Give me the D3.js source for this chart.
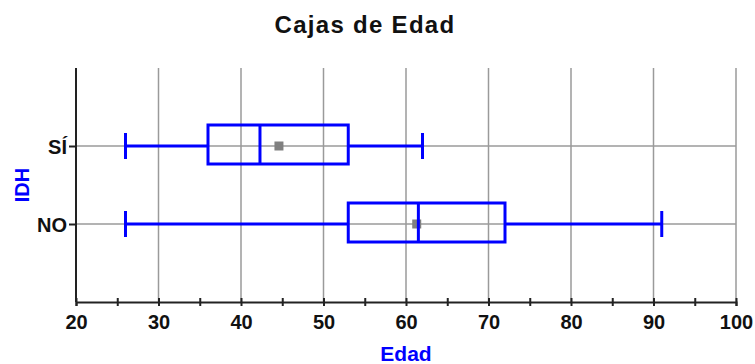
<!DOCTYPE html>
<html>
<head>
<meta charset="utf-8">
<script src="https://cdn.jsdelivr.net/npm/d3@7"></script>
<style>
  body { margin: 0; background: #fff; }
  text { font-family: "Liberation Sans", Arial, sans-serif; }
</style>
</head>
<body>
<div id="chart"></div>
<script>
// box data
let categories = ["SÍ", "NO"];
let whiskerLow = [26, 26];
let q1 = [36, 53];
let medians = [42.3, 61.5];
let q3 = [53, 72];
let whiskerHigh = [62, 91];
let means = [44.6, 61.3];
let xTicks = [20, 25, 30, 35, 40, 45, 50, 55, 60, 65, 70, 75, 80, 85, 90, 95, 100];

let width = 755,
    height = 364;
let margin = {top: 68, right: 19, bottom: 62, left: 76};

let svg = d3.select("#chart")
    .append("svg")
    .attr("width", width)
    .attr("height", height);

let plotW = width - margin.left - margin.right,
    plotH = height - margin.top - margin.bottom;

let g = svg.append("g")
    .attr("transform", `translate(${margin.left},${margin.top})`);

let x = d3.scaleLinear()
    .domain([20, 100])
    .range([0, plotW]);

let y = d3.scalePoint()
    .domain(["NO", "SÍ"])
    .range([plotH, 0])
    .padding(1);

// grid
g.append("g").selectAll("line")
    .data(xTicks.filter(d => d % 10 == 0 && d > 20))
    .enter().append("line")
    .attr("x1", d => x(d)).attr("x2", d => x(d))
    .attr("y1", 0).attr("y2", plotH)
    .attr("stroke", "#9a9a9a")
    .attr("stroke-width", 1.5);

g.append("g").selectAll("line")
    .data(categories)
    .enter().append("line")
    .attr("x1", 0).attr("x2", plotW)
    .attr("y1", d => y(d)).attr("y2", d => y(d))
    .attr("stroke", "#9a9a9a")
    .attr("stroke-width", 1.5);

// axes
let xAxis = g.append("g")
    .attr("transform", `translate(0,${plotH})`)
    .call(d3.axisBottom(x).tickValues(xTicks).tickSize(4).tickPadding(9)
        .tickFormat(d => d % 10 == 0 ? d : ""));
xAxis.select(".domain").attr("stroke", "#222").attr("stroke-width", 2);
xAxis.selectAll(".tick line").attr("y1", -4).attr("stroke", "#222").attr("stroke-width", 2);
xAxis.selectAll(".tick text")
    .attr("fill", "#111")
    .style("font-size", "20px")
    .style("font-weight", "bold");

let yAxis = g.append("g")
    .call(d3.axisLeft(y).tickSize(7).tickPadding(2));
yAxis.select(".domain").attr("stroke", "#222").attr("stroke-width", 2)
    .attr("d", `M0,${plotH}V0`);
yAxis.selectAll(".tick line").attr("stroke", "#222").attr("stroke-width", 2);
yAxis.selectAll(".tick text")
    .attr("fill", "#111")
    .attr("dy", "0.36em")
    .style("font-size", "20px")
    .style("font-weight", "bold");

// boxes
let blue = "#0000ff";
let boxes = g.append("g").selectAll("g")
    .data(categories)
    .enter().append("g");

boxes.append("line")
    .attr("x1", (d, i) => x(whiskerLow[i]))
    .attr("x2", (d, i) => x(q1[i]))
    .attr("y1", d => y(d)).attr("y2", d => y(d))
    .attr("stroke", blue).attr("stroke-width", 3);

boxes.append("line")
    .attr("x1", (d, i) => x(q3[i]))
    .attr("x2", (d, i) => x(whiskerHigh[i]))
    .attr("y1", d => y(d)).attr("y2", d => y(d))
    .attr("stroke", blue).attr("stroke-width", 3);

boxes.append("line")
    .attr("x1", (d, i) => x(whiskerLow[i]))
    .attr("x2", (d, i) => x(whiskerLow[i]))
    .attr("y1", d => y(d) - 13).attr("y2", d => y(d) + 13)
    .attr("stroke", blue).attr("stroke-width", 3);

boxes.append("line")
    .attr("x1", (d, i) => x(whiskerHigh[i]))
    .attr("x2", (d, i) => x(whiskerHigh[i]))
    .attr("y1", d => y(d) - 13).attr("y2", d => y(d) + 13)
    .attr("stroke", blue).attr("stroke-width", 3);

boxes.append("rect")
    .attr("x", (d, i) => x(q1[i]))
    .attr("y", d => y(d) - 21)
    .attr("width", (d, i) => x(q3[i]) - x(q1[i]))
    .attr("height", 39)
    .attr("fill", "none")
    .attr("stroke", blue).attr("stroke-width", 3);

boxes.append("rect")
    .attr("x", (d, i) => x(means[i]) - 4.5)
    .attr("y", d => y(d) - 4.5)
    .attr("width", 9).attr("height", 9)
    .attr("fill", "#808080");

boxes.append("line")
    .attr("x1", (d, i) => x(medians[i]))
    .attr("x2", (d, i) => x(medians[i]))
    .attr("y1", d => y(d) - 21).attr("y2", d => y(d) + 18)
    .attr("stroke", blue).attr("stroke-width", 3);

// titles
svg.append("text")
    .attr("x", 365)
    .attr("y", 33)
    .style("text-anchor", "middle")
    .style("font-size", "24px")
    .style("font-weight", "bold")
    .style("letter-spacing", "1.3px")
    .attr("fill", "#111")
    .text("Cajas de Edad");

svg.append("text")
    .attr("x", margin.left + plotW / 2)
    .attr("y", 361)
    .style("text-anchor", "middle")
    .style("font-size", "21px")
    .style("font-weight", "bold")
    .attr("fill", blue)
    .text("Edad");

svg.append("text")
    .attr("transform", `translate(29,${margin.top + plotH / 2}) rotate(-90)`)
    .style("text-anchor", "middle")
    .style("font-size", "20px")
    .style("font-weight", "bold")
    .attr("fill", blue)
    .text("IDH");
</script>
</body>
</html>
